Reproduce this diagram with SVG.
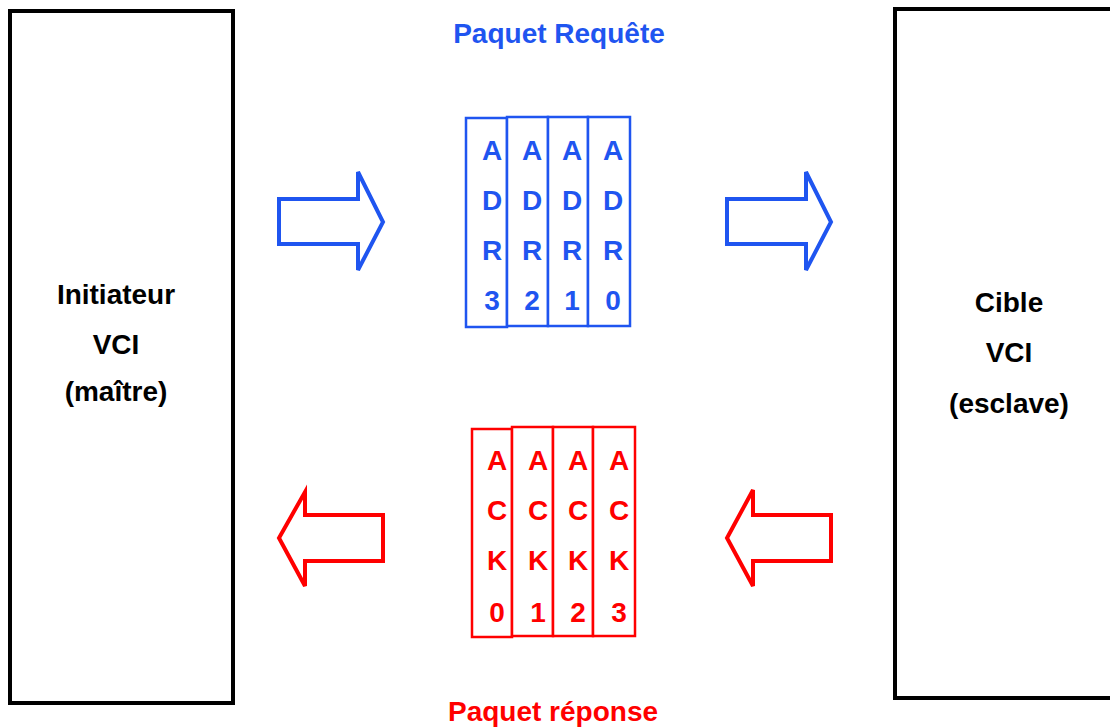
<svg xmlns="http://www.w3.org/2000/svg" width="1110" height="728" viewBox="0 0 1110 728">
  <style>
    .box { fill: #ffffff; stroke: #000000; stroke-width: 4; }
    .lbl { font-family: "Liberation Sans", Arial, sans-serif; font-weight: bold; font-size: 28px; text-anchor: middle; fill: #000000; }
    .req { fill: #ffffff; stroke: #1f55f0; stroke-width: 2.5; }
    .rsp { fill: #ffffff; stroke: #ff0000; stroke-width: 2.5; }
    .reqt { font-family: "Liberation Sans", Arial, sans-serif; font-weight: bold; font-size: 28px; text-anchor: middle; fill: #1f55f0; }
    .rspt { font-family: "Liberation Sans", Arial, sans-serif; font-weight: bold; font-size: 28px; text-anchor: middle; fill: #ff0000; }
    .arr-blue { fill: #ffffff; stroke: #1f55f0; stroke-width: 4; stroke-linejoin: miter; }
    .arr-red { fill: #ffffff; stroke: #ff0000; stroke-width: 4; stroke-linejoin: miter; }
  </style>

  <rect width="1110" height="728" fill="#ffffff"/>

  <!-- Master (initiator) -->
  <g id="initiateur">
    <rect class="box" x="10" y="11" width="223" height="692"/>
    <text class="lbl" x="116" y="304">Initiateur</text>
    <text class="lbl" x="116" y="354">VCI</text>
    <text class="lbl" x="116" y="401">(maître)</text>
  </g>

  <!-- Slave (target) -->
  <g id="cible">
    <rect class="box" x="895" y="9" width="240" height="689"/>
    <text class="lbl" x="1009" y="312">Cible</text>
    <text class="lbl" x="1009" y="362">VCI</text>
    <text class="lbl" x="1009" y="413">(esclave)</text>
  </g>

  <!-- Request packet -->
  <g id="paquet-requete">
    <text class="reqt" x="559" y="43">Paquet Requête</text>
    <rect class="req" x="466" y="118" width="41" height="209"/>
    <rect class="req" x="507" y="117" width="41" height="209"/>
    <rect class="req" x="548" y="117" width="40" height="209"/>
    <rect class="req" x="588" y="117" width="42" height="209"/>
    <g class="reqt">
      <text x="492" y="160">A</text><text x="492" y="210">D</text><text x="492" y="260">R</text><text x="492" y="310">3</text>
      <text x="532" y="160">A</text><text x="532" y="210">D</text><text x="532" y="260">R</text><text x="532" y="310">2</text>
      <text x="572" y="160">A</text><text x="572" y="210">D</text><text x="572" y="260">R</text><text x="572" y="310">1</text>
      <text x="613" y="160">A</text><text x="613" y="210">D</text><text x="613" y="260">R</text><text x="613" y="310">0</text>
    </g>
  </g>

  <!-- Response packet -->
  <g id="paquet-reponse">
    <text class="rspt" x="553" y="721">Paquet réponse</text>
    <rect class="rsp" x="472" y="429" width="40" height="208"/>
    <rect class="rsp" x="512" y="427" width="41" height="209"/>
    <rect class="rsp" x="553" y="427" width="40" height="209"/>
    <rect class="rsp" x="593" y="427" width="42" height="209"/>
    <g class="rspt">
      <text x="497" y="470">A</text><text x="497" y="520">C</text><text x="497" y="570">K</text><text x="497" y="622">0</text>
      <text x="538" y="470">A</text><text x="538" y="520">C</text><text x="538" y="570">K</text><text x="538" y="622">1</text>
      <text x="578" y="470">A</text><text x="578" y="520">C</text><text x="578" y="570">K</text><text x="578" y="622">2</text>
      <text x="619" y="470">A</text><text x="619" y="520">C</text><text x="619" y="570">K</text><text x="619" y="622">3</text>
    </g>
  </g>

  <!-- Block arrows -->
  <g id="connecteurs">
    <polygon class="arr-blue" points="279,199 358,199 358,172 383,222 358,270 358,244 279,244"/>
    <polygon class="arr-blue" points="727,199 806,199 806,172 831,222 806,270 806,244 727,244"/>
    <polygon class="arr-red" points="383,515 305,515 305,492 279,538 305,586 305,561 383,561"/>
    <polygon class="arr-red" points="831,515 753,515 753,490 727,538 753,586 753,561 831,561"/>
  </g>
</svg>
